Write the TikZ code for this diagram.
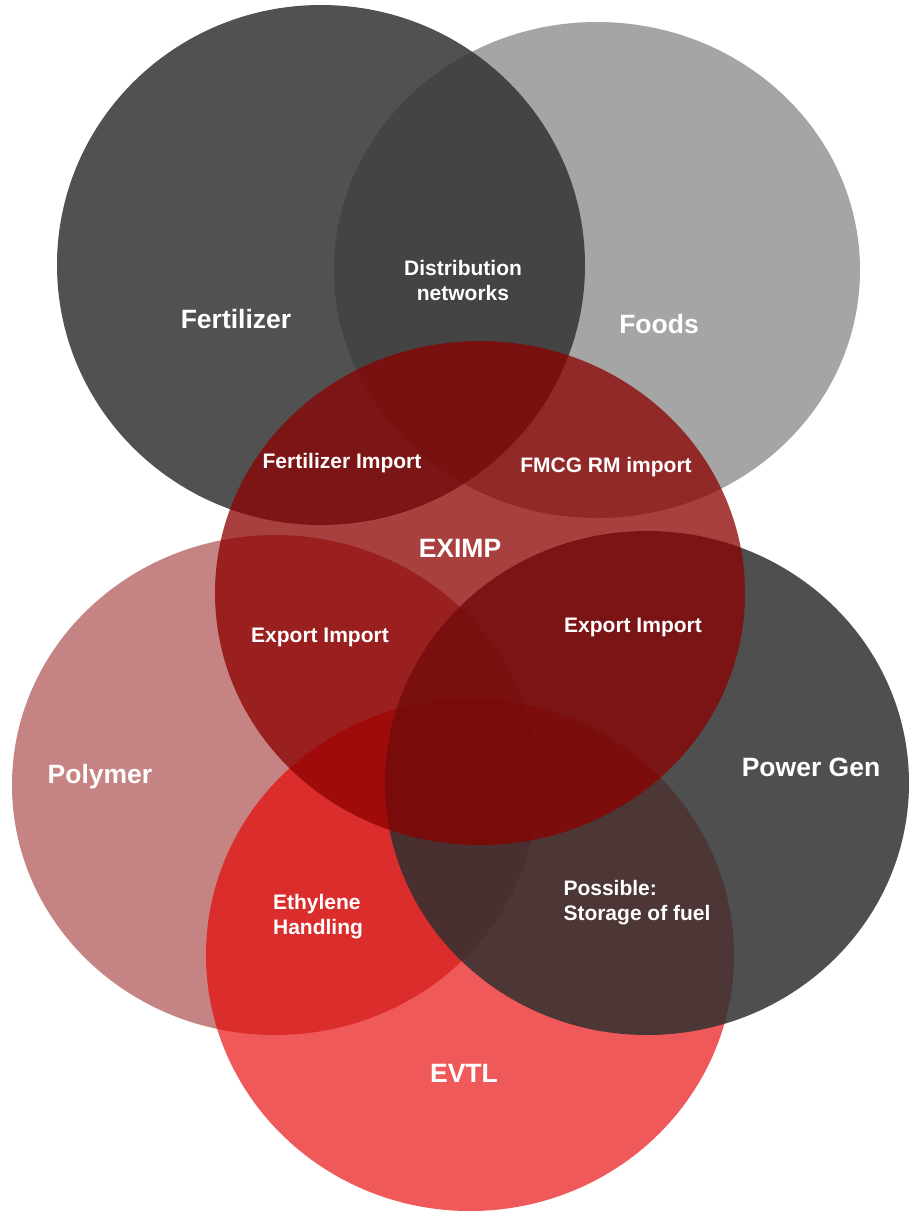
\documentclass[tikz,border=0pt]{standalone}
\usepackage{fontspec}
\setmainfont{Liberation Sans}
\usepackage{tikz}
\usetikzlibrary{calc}

\definecolor{foodsgray}{HTML}{8E8E8E}
\definecolor{fertgray}{HTML}{333333}
\definecolor{polyred}{HTML}{A03030}
\definecolor{evtlred}{HTML}{E80000}
\definecolor{powergray}{HTML}{303030}
\definecolor{eximpred}{HTML}{8B0000}

\begin{document}
\begin{tikzpicture}[x=1pt,y=-1pt]
	\tikzset{big/.style={text=white,font=\fontsize{26.5}{30}\selectfont\bfseries}}
	\tikzset{small/.style={text=white,font=\fontsize{21}{25}\selectfont\bfseries,align=center,inner sep=0pt}}
	\useasboundingbox (0,0) rectangle (909,1211);

	% sets
	\fill[foodsgray,opacity=.8] (597,270) ellipse [x radius=263, y radius=248];
	\fill[fertgray,opacity=.85] (321,265) ellipse [x radius=264, y radius=260];
	\fill[polyred,opacity=.6] (275,785) ellipse [x radius=263, y radius=250];
	\fill[evtlred,opacity=.65] (470,955) ellipse [x radius=264, y radius=256];
	\fill[powergray,opacity=.85] (647,783) ellipse [x radius=262, y radius=252];
	\fill[eximpred,opacity=.75] (480,593) ellipse [x radius=265, y radius=252];

	% set names
	\node[big] (fert) at (236,319) {Fertilizer};
	\node[big] (foods) at (659,324) {Foods};
	\node[big] (eximp) at (460,548) {EXIMP};
	\node[big] (poly) at (100,777) {Polymer};
	\node[big] (power) at (811,767) {Power Gen};
	\node[big] (evtl) at (464,1073) {EVTL};

	% overlaps
	\node[small] (distr) at (463,280) {Distribution\\networks};
	\node[small] (fertimp) at (342,463) {Fertilizer Import};
	\node[small] (fmcg) at (606,467) {FMCG RM import};
	\node[small] (expleft) at (320,637) {Export Import};
	\node[small] (expright) at (633,627) {Export Import};
	\node[small,align=left] (ethyl) at (318,917) {Ethylene\\Handling};
	\node[small,align=left] (fuel) at (637,903) {Possible:\\Storage of fuel};
\end{tikzpicture}
\end{document}
